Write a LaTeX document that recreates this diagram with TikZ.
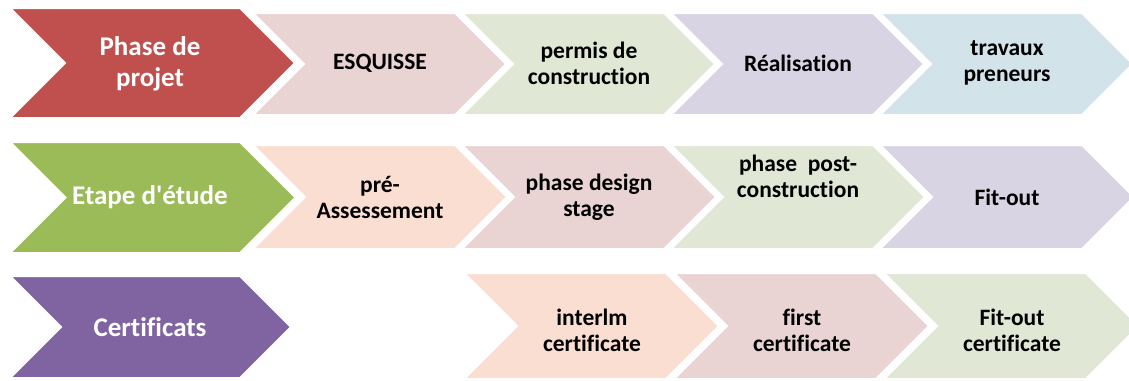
\documentclass[tikz,border=0pt]{standalone}
\usepackage{fontspec}
\setmainfont[Ligatures={NoCommon,TeXOff}]{Carlito}
\usetikzlibrary{calc}
\definecolor{headred}{HTML}{C0504D}
\definecolor{headgreen}{HTML}{9BBB59}
\definecolor{headpurple}{HTML}{8064A2}
\definecolor{tintred}{HTML}{E9D3D3}
\definecolor{tintgreen}{HTML}{E0E8D5}
\definecolor{tintpurple}{HTML}{D9D4E4}
\definecolor{tintblue}{HTML}{D2E3EA}
\definecolor{tintpeach}{HTML}{FBDED2}
\tikzset{
  chev/.style      = {draw=white, line width=2pt, line join=miter},
  headtext/.style  = {font=\bfseries\fontsize{27}{31}\selectfont, text=white, align=center},
  stagetext/.style = {font=\bfseries\fontsize{23.5}{26}\selectfont, text=black, align=center},
}
% chevron: fill, left x, top-right x, top y, bottom y
\newcommand{\chevron}[5]{%
  \pgfmathsetmacro{\cmid}{(#4+#5)/2}%
  \pgfmathsetmacro{\ctip}{#3+(#5-#4)/2}%
  \pgfmathsetmacro{\cnotch}{#2+(#5-#4)/2}%
  \filldraw[chev, fill=#1] (#2,#4) -- (#3,#4) -- (\ctip,\cmid) -- (#3,#5)
      -- (#2,#5) -- (\cnotch,\cmid) -- cycle;}

\begin{document}
\begin{tikzpicture}[x=1pt, y=-1pt]
  \useasboundingbox (0,0) rectangle (1129,380);

  % ---- row 1 : phase de projet --------------------------------------------
  \chevron{headred}{10}{240}{8}{118}
  \node[headtext] (projet) at (150,64) {Phase de\\projet};
  \foreach \l/\c/\n/\t in {253/tintred/esq/{ESQUISSE},
                           462/tintgreen/permis/{permis de\\construction},
                           671/tintpurple/real/{Réalisation},
                           880/tintblue/travaux/{travaux\\preneurs}} {
    \chevron{\c}{\l}{\l+202}{13}{115}
    \node[stagetext] (\n) at (\l+127,63) {\t};
  }

  % ---- row 2 : etape d'etude ----------------------------------------------
  \chevron{headgreen}{10}{240}{142}{253}
  \node[headtext] (etape) at (150,197) {Etape d'étude};
  \foreach \l/\c/\n/\y/\t in {253/tintpeach/pre/197/{pré-\\Assessement},
                              462/tintred/design/197/{phase design\\stage},
                              671/tintgreen/post/176/{phase~ post-\\construction},
                              880/tintpurple/fitout/197/{Fit-out}} {
    \chevron{\c}{\l}{\l+202}{145}{249}
    \node[stagetext] (\n) at (\l+127,\y) {\t};
  }

  % ---- row 3 : certificats ------------------------------------------------
  \chevron{headpurple}{10}{240}{276}{378}
  \node[headtext] (certif) at (150,327) {Certificats};
  \foreach \l/\c/\n/\t in {464/tintpeach/interim/{interlm\\certificate},
                           674/tintred/first/{first\\certificate},
                           884/tintgreen/fitcert/{Fit-out\\certificate}} {
    \chevron{\c}{\l}{\l+202}{273}{379}
    \node[stagetext] (\n) at (\l+128,330) {\t};
  }
\end{tikzpicture}
\end{document}
